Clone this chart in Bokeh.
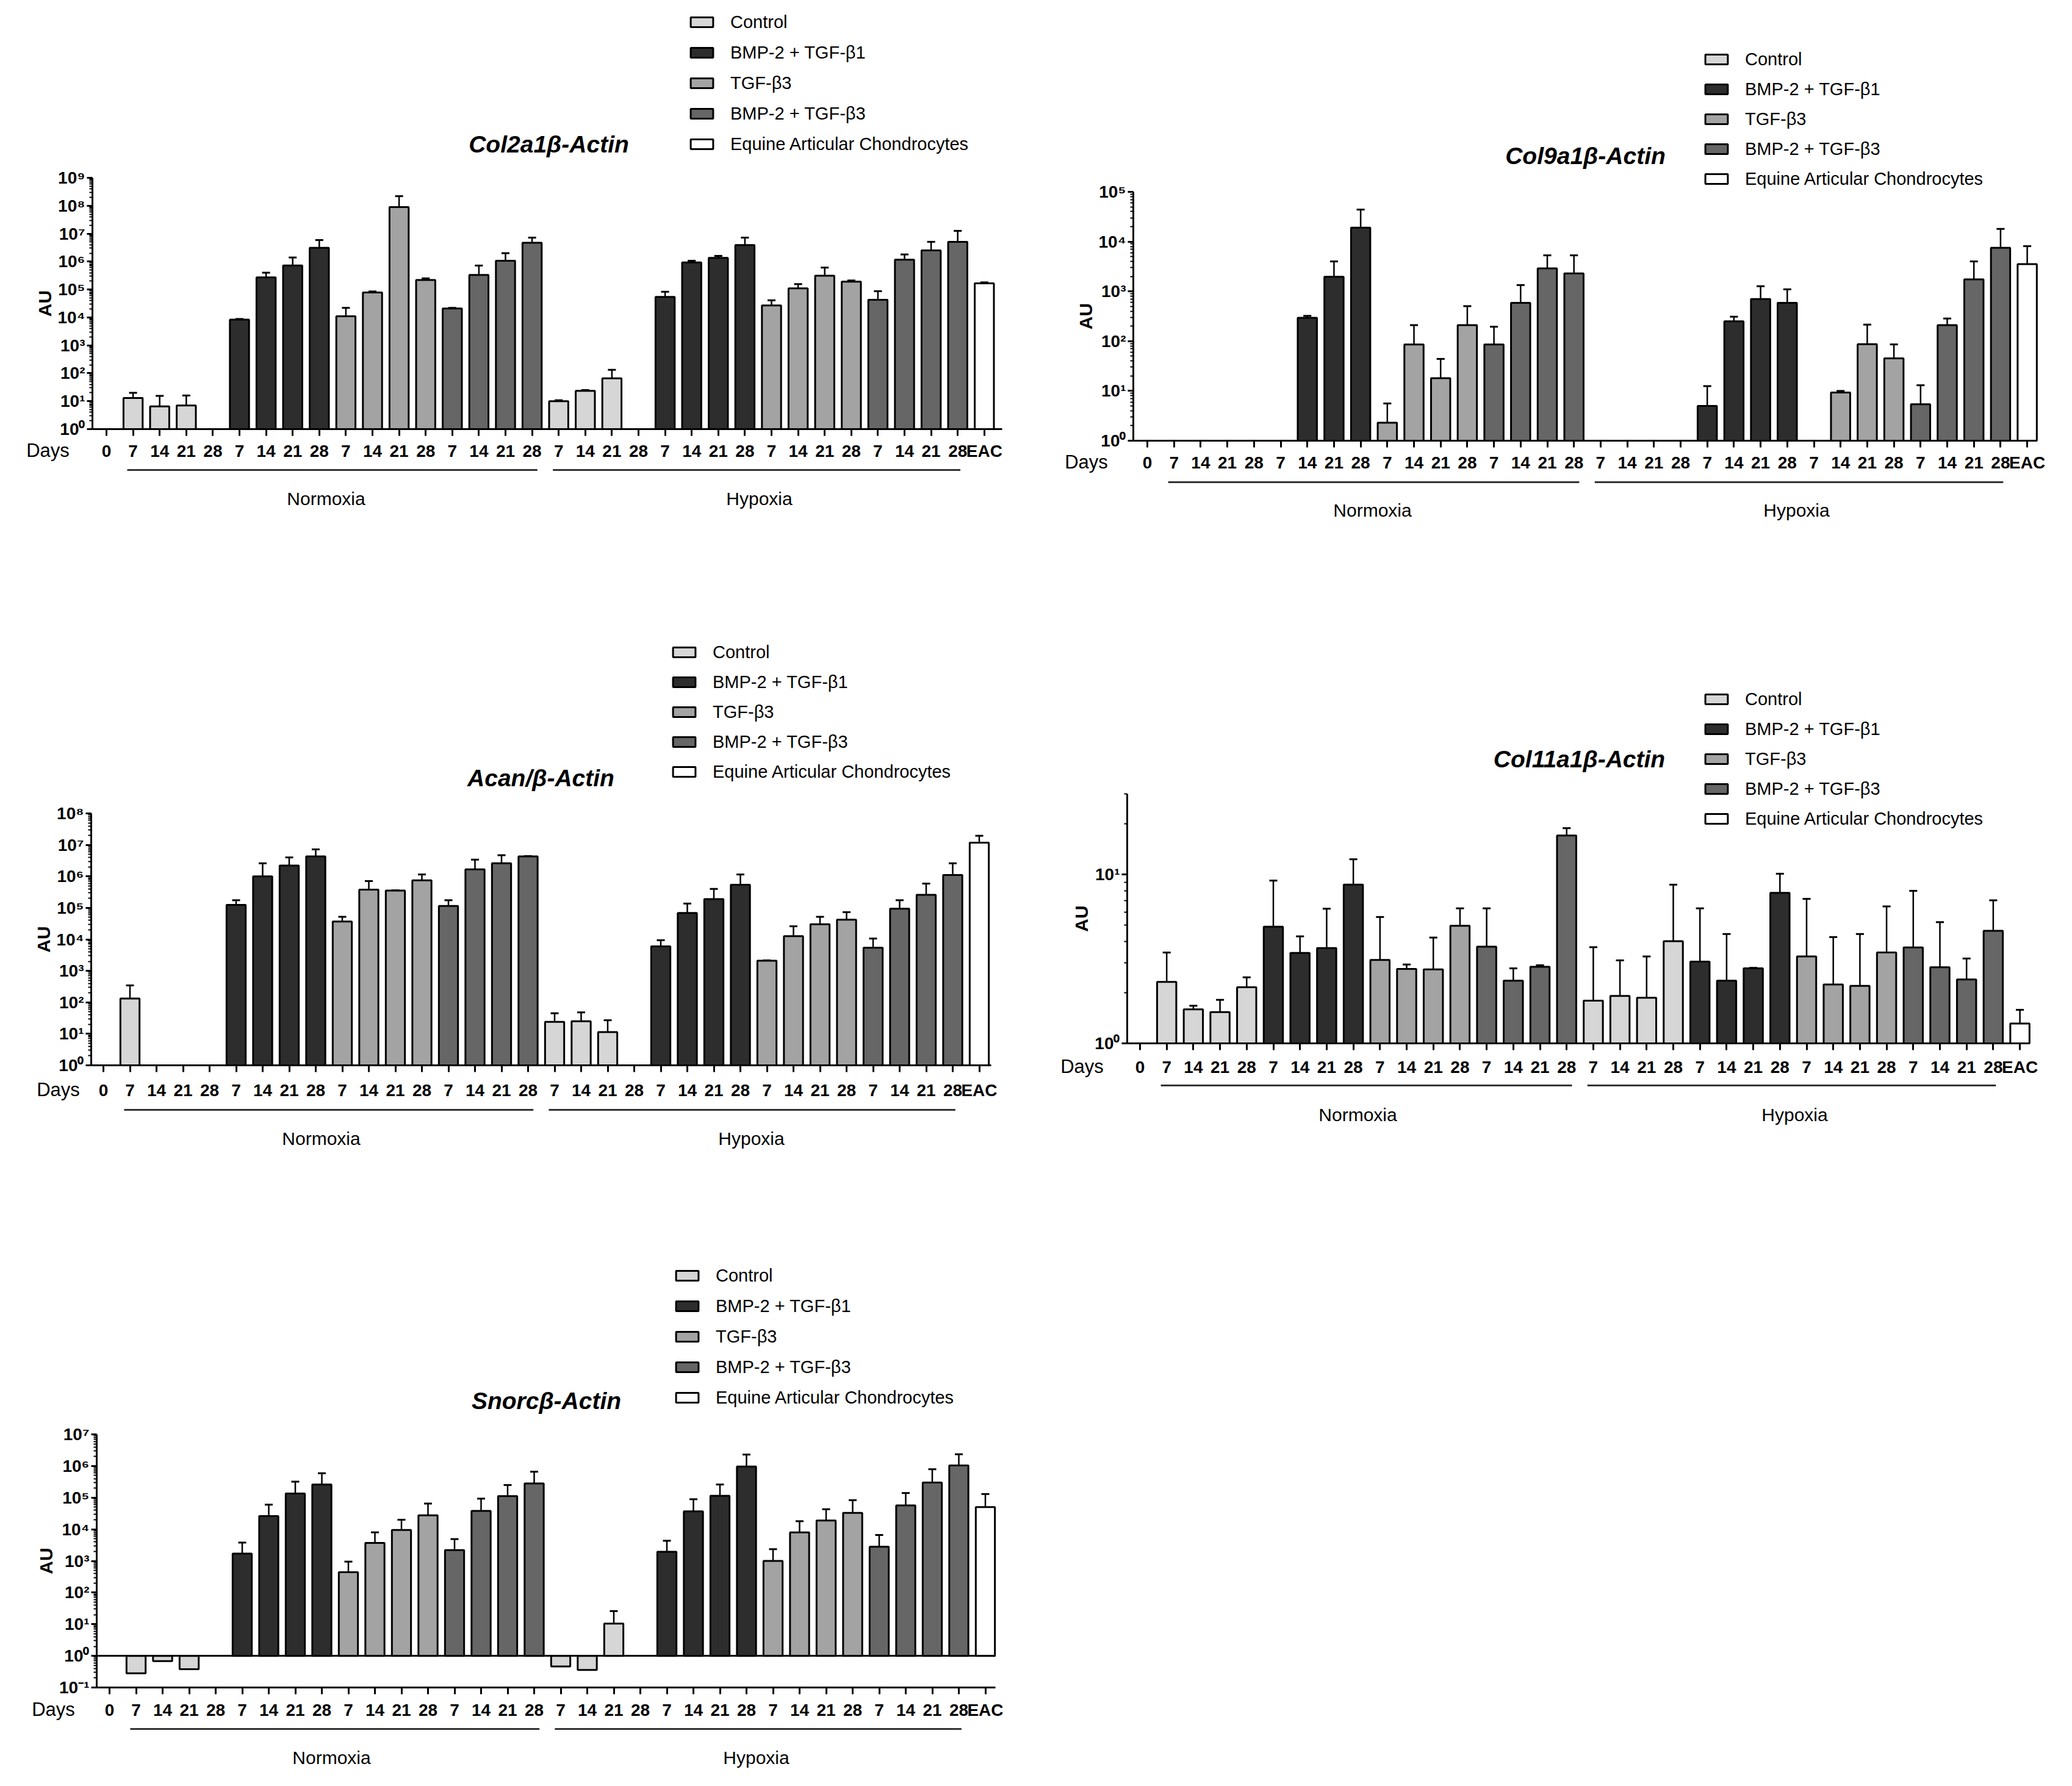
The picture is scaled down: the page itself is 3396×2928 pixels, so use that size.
import math
from bokeh.plotting import figure
from bokeh.models import (Range1d, FixedTicker, Label, BoxAnnotation, Legend,
                          LegendItem, ColumnDataSource, LinearAxis, LogAxis)
from bokeh.layouts import row, column
from bokeh.embed import file_html
from bokeh.resources import INLINE

FONT = "Liberation Sans"

# ---------------- data ----------------
treatments = ["Control", "BMP-2 + TGF-\u03b21", "TGF-\u03b23", "BMP-2 + TGF-\u03b23"]
eac_name = "Equine Articular Chondrocytes"
day_labels = ["0"] + ["7", "14", "21", "28"] * 8 + ["EAC"]
conditions = ["Normoxia", "Hypoxia"]
colors = ["#d6d6d6", "#2d2d2d", "#a3a3a3", "#666666"]
eac_color = "#ffffff"

# order of each list: Normoxia d7, d14, d21, d28, Hypoxia d7, d14, d21, d28
col2a1_control = [13, 6.5, 7, None, 10, 23.5, 66, None]
col2a1_control_err = [20, 15.5, 16, None, 10.8, 25, 133, None]
col2a1_bmp_b1 = [8300, 2.7e5, 7.2e5, 3.1e6, 5.4e4, 9.3e5, 1.35e6, 3.9e6]
col2a1_bmp_b1_err = [8800, 4e5, 1.4e6, 5.9e6, 8.3e4, 1.07e6, 1.6e6, 7.2e6]
col2a1_tgf_b3 = [1.1e4, 7.8e4, 8.9e7, 2.2e5, 2.7e4, 1.1e5, 3.1e5, 1.9e5]
col2a1_tgf_b3_err = [2.2e4, 8.5e4, 2.2e8, 2.5e5, 4.1e4, 1.56e5, 6.1e5, 2.1e5]
col2a1_bmp_b3 = [2.1e4, 3.3e5, 1.07e6, 4.7e6, 4.3e4, 1.17e6, 2.5e6, 5.1e6]
col2a1_bmp_b3_err = [2.2e4, 7.2e5, 2.0e6, 7.2e6, 8.7e4, 1.8e6, 5.1e6, 1.26e7]
col2a1_eac, col2a1_eac_err = 1.66e5, 1.8e5

col9a1_control = [None] * 8
col9a1_control_err = [None] * 8
col9a1_bmp_b1 = [None, 295, 1960, 1.9e4, 5.0, 250, 700, 590]
col9a1_bmp_b1_err = [None, 322, 4000, 4.4e4, 12.5, 310, 1270, 1100]
col9a1_tgf_b3 = [2.3, 86, 18, 210, None, 9.3, 87, 45]
col9a1_tgf_b3_err = [5.6, 210, 44, 505, None, 10, 215, 86]
col9a1_bmp_b3 = [86, 590, 2900, 2300, 5.4, 210, 1740, 7500]
col9a1_bmp_b3_err = [195, 1340, 5300, 5300, 13, 285, 4000, 1.8e4]
col9a1_eac, col9a1_eac_err = 3530, 8100

acan_control = [132, None, None, None, 24, 25, 11.4, None]
acan_control_err = [345, None, None, None, 45, 48, 27, None]
acan_bmp_b1 = [1.24e5, 1.0e6, 2.2e6, 4.3e6, 6000, 6.9e4, 1.9e5, 5.4e5]
acan_bmp_b1_err = [1.75e5, 2.6e6, 4.0e6, 7.2e6, 9400, 1.37e5, 4.0e5, 1.15e6]
acan_tgf_b3 = [3.7e4, 3.8e5, 3.55e5, 7.5e5, 2100, 1.26e4, 3.0e4, 4.2e4]
acan_tgf_b3_err = [5.2e4, 7.1e5, 3.6e5, 1.15e6, 2150, 2.6e4, 5.2e4, 7.3e4]
acan_bmp_b3 = [1.15e5, 1.67e6, 2.6e6, 4.3e6, 5400, 9.4e4, 2.6e5, 1.1e6]
acan_bmp_b3_err = [1.75e5, 3.4e6, 4.7e6, 4.4e6, 1.06e4, 1.75e5, 5.9e5, 2.6e6]
acan_eac, acan_eac_err = 1.18e7, 1.95e7

col11a1_control = [2.31, 1.59, 1.53, 2.15, 1.79, 1.91, 1.86, 4.03]
col11a1_control_err = [3.45, 1.67, 1.81, 2.46, 3.71, 3.1, 3.27, 8.7]
col11a1_bmp_b1 = [4.91, 3.43, 3.67, 8.71, 3.05, 2.35, 2.78, 7.78]
col11a1_bmp_b1_err = [9.2, 4.3, 6.27, 12.3, 6.3, 4.44, 2.8, 10.1]
col11a1_tgf_b3 = [3.12, 2.76, 2.74, 4.97, 3.27, 2.23, 2.19, 3.45]
col11a1_tgf_b3_err = [5.6, 2.93, 4.23, 6.3, 7.17, 4.26, 4.44, 6.47]
col11a1_bmp_b3 = [3.74, 2.35, 2.84, 17.0, 3.7, 2.82, 2.39, 4.64]
col11a1_bmp_b3_err = [6.3, 2.78, 2.9, 18.8, 8.0, 5.22, 3.18, 7.03]
col11a1_eac, col11a1_eac_err = 1.31, 1.58

snorc_control = [0.28, 0.68, 0.38, None, 0.46, 0.36, 10.5, None]
snorc_control_err = [None, None, None, None, None, None, 26, None]
snorc_bmp_b1 = [1700, 2.6e4, 1.35e5, 2.6e5, 1940, 3.7e4, 1.14e5, 9.6e5]
snorc_bmp_b1_err = [3800, 6.0e4, 3.2e5, 5.9e5, 4340, 8.9e4, 2.6e5, 2.3e6]
snorc_tgf_b3 = [440, 3700, 9500, 2.75e4, 1000, 8000, 1.9e4, 3.3e4]
snorc_tgf_b3_err = [950, 8000, 2.0e4, 6.5e4, 2350, 1.8e4, 4.3e4, 8.3e4]
snorc_bmp_b3 = [2200, 3.8e4, 1.12e5, 2.8e5, 2800, 5.7e4, 3.0e5, 1.04e6]
snorc_bmp_b3_err = [4900, 9.3e4, 2.5e5, 6.6e5, 6600, 1.4e5, 7.9e5, 2.35e6]
snorc_eac, snorc_eac_err = 5.0e4, 1.3e5

genes = [
    dict(title="Col2a1\u03b2-Actin", yr=(1, 1e9),
         vals=[col2a1_control, col2a1_bmp_b1, col2a1_tgf_b3, col2a1_bmp_b3],
         errs=[col2a1_control_err, col2a1_bmp_b1_err, col2a1_tgf_b3_err, col2a1_bmp_b3_err],
         eac=col2a1_eac, eac_err=col2a1_eac_err),
    dict(title="Col9a1\u03b2-Actin", yr=(1, 1e5),
         vals=[col9a1_control, col9a1_bmp_b1, col9a1_tgf_b3, col9a1_bmp_b3],
         errs=[col9a1_control_err, col9a1_bmp_b1_err, col9a1_tgf_b3_err, col9a1_bmp_b3_err],
         eac=col9a1_eac, eac_err=col9a1_eac_err),
    dict(title="Acan/\u03b2-Actin", yr=(1, 1e8),
         vals=[acan_control, acan_bmp_b1, acan_tgf_b3, acan_bmp_b3],
         errs=[acan_control_err, acan_bmp_b1_err, acan_tgf_b3_err, acan_bmp_b3_err],
         eac=acan_eac, eac_err=acan_eac_err),
    dict(title="Col11a1\u03b2-Actin", yr=(1, 30),
         vals=[col11a1_control, col11a1_bmp_b1, col11a1_tgf_b3, col11a1_bmp_b3],
         errs=[col11a1_control_err, col11a1_bmp_b1_err, col11a1_tgf_b3_err, col11a1_bmp_b3_err],
         eac=col11a1_eac, eac_err=col11a1_eac_err),
    dict(title="Snorc\u03b2-Actin", yr=(0.1, 1e7),
         vals=[snorc_control, snorc_bmp_b1, snorc_tgf_b3, snorc_bmp_b3],
         errs=[snorc_control_err, snorc_bmp_b1_err, snorc_tgf_b3_err, snorc_bmp_b3_err],
         eac=snorc_eac, eac_err=snorc_eac_err),
]

# ---------------- layout (page pixels of the reference) ----------------
panels = [
    dict(ox=8, oy=8, W=1688, H=1030, L=159, R=1650, T=299, B=711, x0=182, dx=43.6,
         tick_y=746, days_x=86, ul_y=778, grp_y=825, grp_x=(542, 1252),
         leg_x=1135, leg_rows=(44, 244), title_x=907, title_y=244),
    dict(ox=1696, oy=8, W=1688, H=1030, L=1865, R=3346, T=322, B=730, x0=1888, dx=43.7,
         tick_y=765, days_x=1788, ul_y=798, grp_y=844, grp_x=(2257, 2952),
         leg_x=2798, leg_rows=(105, 301), title_x=2606, title_y=263),
    dict(ox=8, oy=1038, W=1688, H=1020, L=157, R=1632, T=1341, B=1754, x0=177, dx=43.5,
         tick_y=1794, days_x=103, ul_y=1827, grp_y=1874, grp_x=(534, 1239),
         leg_x=1106, leg_rows=(1075, 1273), title_x=894, title_y=1283),
    dict(ox=1696, oy=1038, W=1688, H=1020, L=1855, R=3333, T=1309, B=1718, x0=1876, dx=43.7,
         tick_y=1756, days_x=1781, ul_y=1787, grp_y=1835, grp_x=(2233, 2949),
         leg_x=2798, leg_rows=(1156, 1350), title_x=2596, title_y=1252),
    dict(ox=8, oy=2058, W=1688, H=850, L=166, R=1639, T=2359, B=2774, x0=187, dx=43.5,
         tick_y=2810, days_x=95, ul_y=2842, grp_y=2889, grp_x=(551, 1247),
         leg_x=1111, leg_rows=(2100, 2299), title_x=903, title_y=2304),
]

SUP = str.maketrans("0123456789-", "\u2070\u00b9\u00b2\u00b3\u2074\u2075\u2076\u2077\u2078\u2079\u207b")
BAR_W = 0.72
CAP = 0.15
group_spans = [(0.78, 16.2), (16.78, 32.1)]
LEG_GLYPH_H = 20
LEG_ITEM_H = 33  # measured height of one legend row at 29px text


def style_axis(ax, size):
    ax.major_label_text_font = FONT
    ax.major_label_text_font_style = "bold"
    ax.major_label_text_font_size = size
    ax.major_label_text_color = "black"
    ax.axis_line_width = 3
    ax.axis_line_color = "black"
    ax.major_tick_line_width = 3
    ax.major_tick_line_color = "black"
    ax.major_tick_in = 0


def make_panel(g, P):
    lo, hi = g["yr"]
    ox, oy, W, H = P["ox"], P["oy"], P["W"], P["H"]
    # data <-> page pixel mapping (frame = whole figure)
    x_start = (ox - P["x0"]) / P["dx"]
    x_end = (ox + W - P["x0"]) / P["dx"]
    D = (P["B"] - P["T"]) / (math.log10(hi) - math.log10(lo))
    y_start = 10 ** (math.log10(lo) - (oy + H - P["B"]) / D)
    y_end = 10 ** (math.log10(hi) + (P["T"] - oy) / D)
    xL = (P["L"] - P["x0"]) / P["dx"]
    xR = (P["R"] - P["x0"]) / P["dx"]

    fig = figure(width=W, height=H, output_backend="svg", toolbar_location=None,
                 y_axis_type="log", x_axis_location=None, y_axis_location=None,
                 x_range=Range1d(x_start, x_end), y_range=Range1d(y_start, y_end),
                 min_border_left=0, min_border_right=0, min_border_top=0, min_border_bottom=0)
    fig.title.visible = False
    fig.outline_line_color = None
    fig.grid.visible = False
    fig.background_fill_color = "white"
    fig.border_fill_color = "white"

    def sx(px):
        return px - ox

    def sy(py):
        return oy + H - py

    items = []
    ex, ey0, ey1 = [], [], []
    for t, name in enumerate(treatments):
        xs, tops = [], []
        for c in range(2):
            for d in range(4):
                i = 4 * c + d
                v = g["vals"][t][i]
                x = 1 + 16 * c + 4 * t + d
                xs.append(x)
                tops.append(float("nan") if v is None else v)   # missing value -> no bar
                e = g["errs"][t][i]
                if v is not None and e is not None:
                    ex.append(x); ey0.append(v); ey1.append(e)
        src = ColumnDataSource(dict(x=xs, top=tops))
        r = fig.vbar(x="x", top="top", bottom=1, width=BAR_W, source=src,
                     fill_color=colors[t], line_color="black", line_width=3)
        items.append(LegendItem(label=name, renderers=[r]))
    src = ColumnDataSource(dict(x=[33], top=[g["eac"]]))
    r = fig.vbar(x="x", top="top", bottom=1, width=BAR_W, source=src,
                 fill_color=eac_color, line_color="black", line_width=3)
    items.append(LegendItem(label=eac_name, renderers=[r]))
    ex.append(33); ey0.append(g["eac"]); ey1.append(g["eac_err"])

    esrc = ColumnDataSource(dict(x=ex, y0=ey0, y1=ey1,
                                 xl=[x - CAP for x in ex], xr=[x + CAP for x in ex]))
    fig.segment(x0="x", y0="y0", x1="x", y1="y1", source=esrc, line_color="black", line_width=2.5)
    fig.segment(x0="xl", y0="y1", x1="xr", y1="y1", source=esrc, line_color="black", line_width=3)

    # y axis (log), fixed at the left end of the bar area
    kmin = int(round(math.log10(lo)))
    kmax = int(math.floor(math.log10(hi) + 1e-9))
    majors = [10.0 ** k for k in range(kmin, kmax + 1)]
    minors = [m * 10.0 ** k for k in range(kmin, kmax + 1) for m in range(2, 10) if m * 10.0 ** k <= hi]
    ya = LogAxis(fixed_location=xL, bounds=(lo, hi),
                 ticker=FixedTicker(ticks=majors, minor_ticks=minors))
    style_axis(ya, "28px")
    ya.major_label_overrides = {10.0 ** k: "10" + str(k).translate(SUP) for k in range(kmin, kmax + 1)}
    ya.major_label_standoff = 3
    ya.major_tick_out = 9
    ya.minor_tick_line_width = 2
    ya.minor_tick_line_color = "black"
    ya.minor_tick_out = 5
    ya.minor_tick_in = 0
    ya.axis_label = "AU"
    ya.axis_label_text_font = FONT
    ya.axis_label_text_font_style = "bold"
    ya.axis_label_text_font_size = "30px"
    ya.axis_label_text_color = "black"
    ya.axis_label_standoff = 2
    fig.add_layout(ya, "left")

    # x axis with day labels
    xa = LinearAxis(fixed_location=lo, bounds=(xL, xR),
                    ticker=FixedTicker(ticks=list(range(len(day_labels))), minor_ticks=[]))
    style_axis(xa, "28px")
    xa.major_label_overrides = {i: lab for i, lab in enumerate(day_labels)}
    xa.major_tick_out = 11
    xa.minor_tick_line_color = None
    xa.major_label_standoff = max(0, int(P["tick_y"] - P["B"] - 11 - 15))
    fig.add_layout(xa, "below")

    if lo < 1:  # baseline line at 10^0
        base = LinearAxis(fixed_location=1, bounds=(xL, xR), ticker=FixedTicker(ticks=[], minor_ticks=[]))
        base.axis_line_width = 3
        base.axis_line_color = "black"
        base.major_tick_line_color = None
        base.minor_tick_line_color = None
        base.major_label_text_font_size = "0px"
        fig.add_layout(base, "below")

    fig.add_layout(Label(x=sx(P["days_x"]), y=sy(P["tick_y"]), x_units="screen", y_units="screen",
                         text="Days", text_font=FONT, text_font_size="31px",
                         text_align="center", text_baseline="middle", text_color="black"))
    for (a, b), name, gx in zip(group_spans, conditions, P["grp_x"]):
        fig.add_layout(BoxAnnotation(left=a, right=b, top=sy(P["ul_y"]) + 1.5, bottom=sy(P["ul_y"]) - 1.5,
                                     top_units="screen", bottom_units="screen",
                                     fill_color="#333333", fill_alpha=1, line_color=None))
        fig.add_layout(Label(x=(gx - P["x0"]) / P["dx"], y=sy(P["grp_y"]), y_units="screen",
                             text=name, text_font=FONT, text_font_size="30px",
                             text_align="center", text_baseline="middle", text_color="black"))
    fig.add_layout(Label(x=sx(P["title_x"]), y=sy(P["title_y"]), x_units="screen", y_units="screen",
                         text=g["title"], text_font=FONT, text_font_size="39px",
                         text_font_style="bold italic", text_align="center", text_baseline="middle",
                         text_color="black"))

    r0, r4 = P["leg_rows"]
    pitch = (r4 - r0) / 4.0
    leg_top = r0 - LEG_ITEM_H / 2
    leg_h = 4 * pitch + LEG_ITEM_H
    legend = Legend(items=items, location=(sx(P["leg_x"]), sy(leg_top + leg_h)),
                    orientation="vertical", glyph_width=46, glyph_height=LEG_GLYPH_H,
                    label_height=LEG_GLYPH_H, spacing=int(round(pitch - LEG_ITEM_H)),
                    padding=0, margin=0,
                    label_standoff=24, label_text_font=FONT, label_text_font_size="29px",
                    label_text_color="black", border_line_color=None, background_fill_alpha=0)
    fig.add_layout(legend, "center")
    return fig


figs = [make_panel(g, P) for g, P in zip(genes, panels)]
layout = column(row(figs[0], figs[1], spacing=0), row(figs[2], figs[3], spacing=0),
                row(figs[4], spacing=0), spacing=0)

open("out.html", "w").write(file_html(layout, INLINE))
